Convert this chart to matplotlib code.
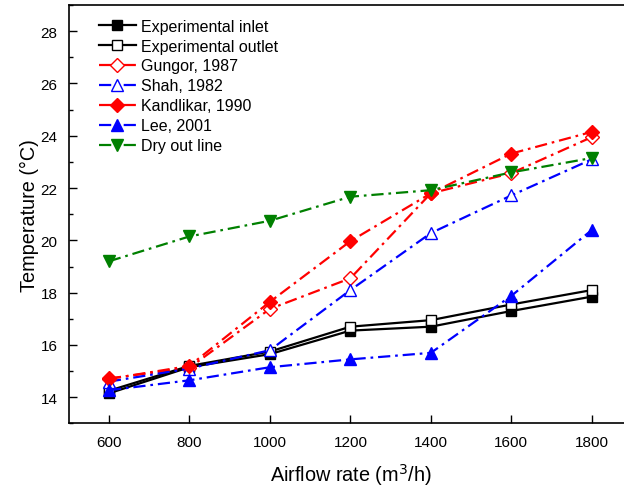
import matplotlib
matplotlib.use("Agg")
import matplotlib.pyplot as plt
from matplotlib.ticker import MultipleLocator

plt.rcParams['font.family'] = ['Liberation Sans', 'DejaVu Sans']

# Datos
airflow = [600, 800, 1000, 1200, 1400, 1600, 1800]
exp_inlet = [14.15, 15.15, 15.65, 16.55, 16.7, 17.3, 17.85]
exp_outlet = [14.25, 15.2, 15.75, 16.7, 16.95, 17.55, 18.1]
gungor = [14.72, 15.13, 17.38, 18.55, 21.8, 22.57, 23.95]
shah = [14.6, 15.1, 15.8, 18.1, 20.28, 21.72, 23.1]
kandlikar = [14.7, 15.2, 17.65, 19.97, 21.8, 23.32, 24.15]
lee = [14.27, 14.65, 15.15, 15.45, 15.7, 17.88, 20.4]
dry_out = [19.2, 20.15, 20.75, 21.67, 21.92, 22.6, 23.15]

dashdot = (0, (5.5, 2.2, 1.2, 2.2))

fig = plt.figure(figsize=(6.24, 4.89), dpi=100)
ax = fig.add_axes([0.110, 0.1320, 0.903, 0.8557])

ax.plot(airflow, exp_inlet, color='black', lw=1.6, marker='s', ms=7,
        mfc='black', mec='black', mew=1, label='Experimental inlet')
ax.plot(airflow, exp_outlet, color='black', lw=1.6, marker='s', ms=7,
        mfc='white', mec='black', mew=1, label='Experimental outlet')
ax.plot(airflow, gungor, color='red', lw=1.6, ls=dashdot, marker='D', ms=7,
        mfc='white', mec='red', mew=1, label='Gungor, 1987')
ax.plot(airflow, shah, color='blue', lw=1.6, ls=dashdot, marker='^', ms=8,
        mfc='white', mec='blue', mew=1, label='Shah, 1982')
ax.plot(airflow, kandlikar, color='red', lw=1.6, ls=dashdot, marker='D', ms=7,
        mfc='red', mec='red', mew=1, label='Kandlikar, 1990')
ax.plot(airflow, lee, color='blue', lw=1.6, ls=dashdot, marker='^', ms=8,
        mfc='blue', mec='blue', mew=1, label='Lee, 2001')
ax.plot(airflow, dry_out, color='green', lw=1.6, ls=dashdot, marker='v', ms=8,
        mfc='green', mec='green', mew=1, label='Dry out line')

ax.set_xlim(500, 1900)
ax.set_ylim(13, 29)
ax.set_xticks(airflow)
ax.yaxis.set_major_locator(MultipleLocator(2))
ax.yaxis.set_minor_locator(MultipleLocator(1))
ax.tick_params(which='both', direction='in', labelsize=11, width=1)
ax.tick_params(which='major', length=6, pad=8)
ax.tick_params(which='minor', length=3)
for s in ax.spines.values():
    s.set_linewidth(1.2)

ax.set_xlabel('Airflow rate (m$^3$/h)', fontsize=14.3, labelpad=9)
ax.set_ylabel('Temperature (\u00b0C)', fontsize=14.3, labelpad=1)

ax.legend(loc='upper left', frameon=False, fontsize=11.5, handlelength=2.3,
          labelspacing=0.31, handletextpad=0.3, borderaxespad=0.45,
          bbox_to_anchor=(0.03, 1.0))

fig.savefig("out.png", dpi=100)
